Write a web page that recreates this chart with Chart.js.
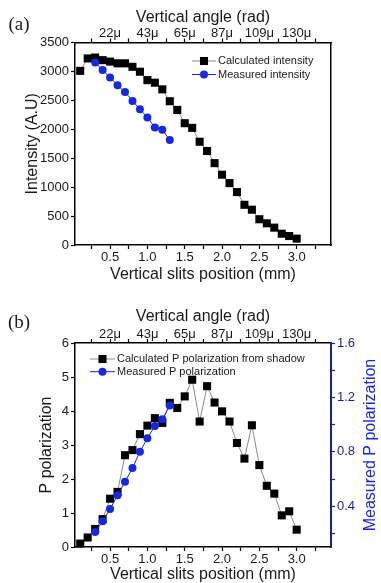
<!DOCTYPE html>
<html>
<head>
<meta charset="utf-8">
<script src="https://cdn.jsdelivr.net/npm/chart.js@4.4.1/dist/chart.umd.min.js"></script>
<style>
  body { margin: 0; background: #fff; }
  .panel { position: absolute; left: 0; }
  #intensityChart { top: 0; }
  #polarChart { top: 290px; }
</style>
</head>
<body>
<canvas id="intensityChart" class="panel" width="381" height="290"></canvas>
<canvas id="polarChart" class="panel" width="381" height="293"></canvas>
<script>
// slit positions (mm) shared by both calculated series
const slitPositions = [
  0.1, 0.2, 0.3, 0.4, 0.5, 0.6, 0.7, 0.8, 0.9, 1.0,
  1.1, 1.2, 1.3, 1.4, 1.5, 1.6, 1.7, 1.8, 1.9, 2.0,
  2.1, 2.2, 2.3, 2.4, 2.5, 2.6, 2.7, 2.8, 2.9, 3.0
];
const calcIntensity = [
  3010, 3225, 3240, 3195, 3170, 3140, 3140, 3080, 2995, 2850,
  2805, 2690, 2485, 2335, 2105, 2025, 1785, 1625, 1415, 1215,
  1070, 915, 695, 610, 445, 375, 300, 195, 155, 110
];
const measuredPositions = [0.3, 0.4, 0.5, 0.6, 0.7, 0.8, 0.9, 1.0, 1.1, 1.2, 1.3];
const measuredIntensity = [3155, 3025, 2895, 2760, 2645, 2490, 2345, 2205, 2030, 1990, 1815];

const calcPolarization = [
  0.10, 0.28, 0.53, 0.82, 1.42, 1.62, 2.70, 2.85, 3.32, 3.57,
  3.79, 3.65, 4.24, 4.09, 4.43, 4.92, 3.69, 4.73, 4.25, 3.99,
  3.69, 3.06, 2.60, 3.58, 2.41, 1.80, 1.57, 0.93, 1.05, 0.51
];
const measuredPolarization = [0.21, 0.29, 0.38, 0.48, 0.58, 0.68, 0.80, 0.90, 0.99, 1.04, 1.14];

// axis ticks
const slitTicks = [0.25, 0.5, 0.75, 1.0, 1.25, 1.5, 1.75, 2.0, 2.25, 2.5, 2.75, 3.0, 3.25];
const slitLabels = [0.5, 1.0, 1.5, 2.0, 2.5, 3.0];
const angleLabels = ["22μ", "43μ", "65μ", "87μ", "109μ", "130μ"];
const intensityTicks = [0, 250, 500, 750, 1000, 1250, 1500, 1750, 2000, 2250, 2500, 2750, 3000, 3250, 3500];
const intensityLabels = [0, 500, 1000, 1500, 2000, 2500, 3000, 3500];
const polarTicks = [0, 0.5, 1, 1.5, 2, 2.5, 3, 3.5, 4, 4.5, 5, 5.5, 6];
const polarLabels = [0, 1, 2, 3, 4, 5, 6];
const measuredPolarTicks = [0.2, 0.4, 0.6, 0.8, 1.0, 1.2, 1.4, 1.6];
const measuredPolarLabels = [0.4, 0.8, 1.2, 1.6];

const palette = {
  ink: "#1a1a1a",
  black: "#000000",
  grayLine: "#8c8c8c",
  blue: "#1428e6",
  navy: "#1e1e96"
};

const FONT = "'Liberation Sans', Arial, sans-serif";
Chart.defaults.font.family = FONT;
Chart.defaults.color = palette.ink;

const toPoints = (xs, ys) => xs.map((x, i) => ({ x, y: ys[i] }));
const fixedTicks = (values) => (scale) => {
  scale.ticks = values.map((value) => ({ value }));
};
const labelIf = (shown, format) => (value) => (shown.includes(value) ? format(value) : "");

const tickFont = { size: 13, family: FONT };
const titleFont = { size: 16, family: FONT, lineHeight: 1 };

const axisGrid = (color) => ({
  drawOnChartArea: false,
  tickLength: 4,
  tickWidth: 1.2,
  tickColor: color
});

// inset legend: short line with the marker in the middle, then the label
const insetLegend = {
  id: "insetLegend",
  afterDatasetsDraw(chart, _args, opts) {
    const { ctx } = chart;
    ctx.save();
    ctx.font = `11px ${FONT}`;
    ctx.textBaseline = "middle";
    chart.data.datasets.forEach((ds, i) => {
      const y = opts.y + i * opts.rowGap;
      const mid = opts.x + opts.lineLength / 2;
      ctx.strokeStyle = ds.borderColor;
      ctx.lineWidth = 1;
      ctx.beginPath();
      ctx.moveTo(opts.x, y);
      ctx.lineTo(opts.x + opts.lineLength, y);
      ctx.stroke();
      ctx.fillStyle = ds.pointBackgroundColor;
      if (ds.pointStyle === "rect") {
        const half = ds.pointRadius * Math.SQRT1_2;
        ctx.fillRect(mid - half, y - half, half * 2, half * 2);
      } else {
        ctx.beginPath();
        ctx.arc(mid, y, ds.pointRadius, 0, Math.PI * 2);
        ctx.fill();
      }
      ctx.fillStyle = palette.ink;
      ctx.fillText(ds.label, opts.x + opts.lineLength + 2, y);
    });
    ctx.restore();
  }
};

// free text: panel tags and the rotated right-hand title
const freeText = {
  id: "freeText",
  afterDraw(chart, _args, opts) {
    const { ctx } = chart;
    (opts.items || []).forEach((item) => {
      ctx.save();
      ctx.font = item.font;
      ctx.fillStyle = item.color || palette.ink;
      ctx.textAlign = "center";
      ctx.textBaseline = "middle";
      ctx.translate(item.x, item.y);
      if (item.rotate) ctx.rotate(item.rotate);
      ctx.fillText(item.text, 0, 0);
      ctx.restore();
    });
  }
};

const calcDataset = (label, xs, ys) => ({
  label,
  data: toPoints(xs, ys),
  borderColor: palette.grayLine,
  borderWidth: 1,
  pointStyle: "rect",
  pointRadius: 5.7,
  pointBorderWidth: 0,
  pointBackgroundColor: palette.black,
  tension: 0,
  clip: false,
  order: 1
});

const measuredDataset = (label, xs, ys, axis) => ({
  label,
  data: toPoints(xs, ys),
  yAxisID: axis,
  borderColor: palette.blue,
  borderWidth: 1,
  pointStyle: "circle",
  pointRadius: 4,
  pointBorderWidth: 0,
  pointBackgroundColor: palette.blue,
  tension: 0,
  clip: false,
  order: 0
});

const slitAxis = (height, titlePad) => ({
  type: "linear",
  position: "bottom",
  min: 0.03,
  max: 3.46,
  afterBuildTicks: fixedTicks(slitTicks),
  afterFit: (scale) => { scale.height = height; },
  ticks: {
    font: tickFont,
    color: palette.ink,
    padding: 1,
    maxRotation: 0,
    autoSkip: false,
    callback: labelIf(slitLabels, (v) => v.toFixed(1))
  },
  grid: axisGrid(palette.black),
  border: { color: palette.black, width: 1.5 },
  title: {
    display: true,
    text: "Vertical slits position (mm)",
    font: titleFont,
    color: palette.ink,
    padding: { top: 0, bottom: titlePad }
  }
});

const angleAxis = (height, titlePad) => ({
  type: "linear",
  position: "top",
  min: 0.03,
  max: 3.46,
  afterBuildTicks: fixedTicks(slitTicks),
  afterFit: (scale) => { scale.height = height; },
  ticks: {
    font: tickFont,
    color: palette.ink,
    padding: -3,
    maxRotation: 0,
    autoSkip: false,
    callback: (value) => {
      const idx = slitLabels.indexOf(value);
      return idx >= 0 ? angleLabels[idx] : "";
    }
  },
  grid: axisGrid(palette.black),
  border: { color: palette.black, width: 1.5 },
  title: {
    display: true,
    text: "Vertical angle (rad)",
    font: titleFont,
    color: palette.ink,
    padding: { top: titlePad, bottom: 0 }
  }
});

const baseOptions = {
  responsive: false,
  animation: false,
  events: [],
  layout: { padding: 0 },
  plugins: {
    legend: { display: false },
    tooltip: { enabled: false }
  }
};

new Chart(document.getElementById("intensityChart"), {
  type: "line",
  data: {
    datasets: [
      calcDataset("Calculated intensity", slitPositions, calcIntensity),
      measuredDataset("Measured intensity", measuredPositions, measuredIntensity, "y")
    ]
  },
  options: {
    ...baseOptions,
    plugins: {
      ...baseOptions.plugins,
      insetLegend: { x: 192, y: 61, rowGap: 13.5, lineLength: 24 },
      freeText: {
        items: [{ text: "(a)", x: 19, y: 25, font: "19px 'Liberation Serif', 'Times New Roman', serif" }]
      }
    },
    scales: {
      x: slitAxis(45, 7),
      xTop: angleAxis(42.5, 10),
      y: {
        type: "linear",
        position: "left",
        min: 0,
        max: 3500,
        afterBuildTicks: fixedTicks(intensityTicks),
        afterFit: (scale) => { scale.width = 75; },
        ticks: {
          font: tickFont,
          color: palette.ink,
          padding: 2,
          callback: labelIf(intensityLabels, (v) => String(v))
        },
        grid: axisGrid(palette.black),
        border: { color: palette.black, width: 1.5 },
        title: {
          display: true,
          text: "Intensity (A.U)",
          font: titleFont,
          color: palette.ink,
          padding: { top: 25, bottom: 0 }
        }
      },
      yFrame: {
        type: "linear",
        position: "right",
        min: 0,
        max: 3500,
        afterFit: (scale) => { scale.width = 50; },
        ticks: { display: false },
        grid: { drawOnChartArea: false, drawTicks: false },
        border: { color: palette.black, width: 1.5 }
      }
    }
  },
  plugins: [insetLegend, freeText]
});

new Chart(document.getElementById("polarChart"), {
  type: "line",
  data: {
    datasets: [
      calcDataset("Calculated P polarization from shadow", slitPositions, calcPolarization),
      measuredDataset("Measured P polarization", measuredPositions, measuredPolarization, "yMeasured")
    ]
  },
  options: {
    ...baseOptions,
    plugins: {
      ...baseOptions.plugins,
      insetLegend: { x: 90, y: 69, rowGap: 12.7, lineLength: 25 },
      freeText: {
        items: [
          { text: "(b)", x: 19, y: 33, font: "19px 'Liberation Serif', 'Times New Roman', serif" },
          {
            text: "Measured P polarization",
            x: 371,
            y: 155,
            rotate: -Math.PI / 2,
            color: palette.blue,
            font: `16px ${FONT}`
          }
        ]
      }
    },
    scales: {
      x: slitAxis(36, 0),
      xTop: angleAxis(53, 19),
      y: {
        type: "linear",
        position: "left",
        min: 0,
        max: 6,
        afterBuildTicks: fixedTicks(polarTicks),
        afterFit: (scale) => { scale.width = 75; },
        ticks: {
          font: tickFont,
          color: palette.ink,
          padding: 2,
          callback: labelIf(polarLabels, (v) => String(v))
        },
        grid: axisGrid(palette.black),
        border: { color: palette.black, width: 1.5 },
        title: {
          display: true,
          text: "P polarization",
          font: titleFont,
          color: palette.ink,
          padding: { top: 39, bottom: 0 }
        }
      },
      yMeasured: {
        type: "linear",
        position: "right",
        min: 0.1,
        max: 1.6,
        afterBuildTicks: fixedTicks(measuredPolarTicks),
        afterFit: (scale) => { scale.width = 50; },
        ticks: {
          font: tickFont,
          color: palette.navy,
          padding: 2,
          callback: labelIf(measuredPolarLabels, (v) => v.toFixed(1))
        },
        grid: axisGrid(palette.navy),
        border: { color: palette.navy, width: 2 }
      }
    }
  },
  plugins: [insetLegend, freeText]
});
</script>
</body>
</html>
